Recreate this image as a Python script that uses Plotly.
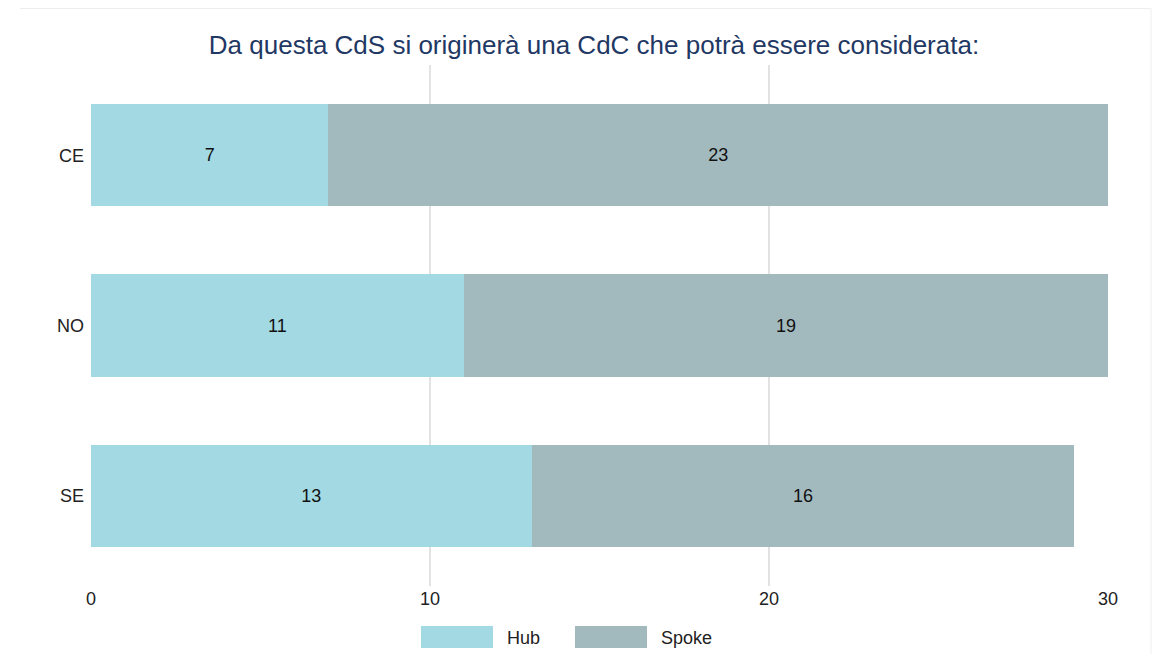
import plotly.graph_objects as go

categories = ["CE", "NO", "SE"]
hub = [7, 11, 13]
spoke = [23, 19, 16]
series_names = ["Hub", "Spoke"]
title_text = "Da questa CdS si originerà una CdC che potrà essere considerata:"
x_ticks = [0, 10, 20, 30]

HUB_C = "#A2D9E2"
SPOKE_C = "#A2BABE"
FONT = "Liberation Sans, Arial, sans-serif"

# page has an 8px body margin; work in figure coordinates (page - 8)
OFF = 8
W, H = 1148, 646
L, T = 91 - OFF, 65 - OFF
R = W - (1108 - OFF)
B = H - (586 - OFF)
pw, ph = W - L - R, H - T - B

def px(x):
    return (x - OFF - L) / pw

def py(y):
    return (H - B - (y - OFF)) / ph

fig = go.Figure()
for name, vals, col in [(series_names[0], hub, HUB_C), (series_names[1], spoke, SPOKE_C)]:
    fig.add_trace(go.Bar(
        y=categories, x=vals, name=name, orientation="h",
        marker=dict(color=col, line=dict(width=0)),
        text=[str(v) for v in vals], textposition="inside",
        insidetextanchor="middle",
        textfont=dict(color="#111111", size=18, family=FONT),
        showlegend=False,
    ))

shapes = [
    dict(type="line", xref="paper", yref="paper", x0=px(20), x1=px(1151), y0=py(8.5), y1=py(8.5),
         line=dict(color="#EEEEEE", width=1)),
    dict(type="line", xref="paper", yref="paper", x0=px(1151), x1=px(1151), y0=py(8.5), y1=py(660),
         line=dict(color="#EEEEEE", width=1)),
    dict(type="rect", xref="paper", yref="paper", x0=px(421), x1=px(493), y0=py(648), y1=py(626),
         fillcolor=HUB_C, line=dict(width=0)),
    dict(type="rect", xref="paper", yref="paper", x0=px(575), x1=px(647), y0=py(648), y1=py(626),
         fillcolor=SPOKE_C, line=dict(width=0)),
]
annotations = [
    dict(text=series_names[0], xref="paper", yref="paper", x=px(505), y=py(638), xanchor="left",
         yanchor="middle", showarrow=False, font=dict(size=18, color="#222222", family=FONT)),
    dict(text=series_names[1], xref="paper", yref="paper", x=px(659), y=py(638), xanchor="left",
         yanchor="middle", showarrow=False, font=dict(size=18, color="#222222", family=FONT)),
]

fig.update_layout(
    barmode="stack",
    bargap=0.4,
    width=W, height=H,
    margin=dict(l=L, r=R, t=T, b=B),
    paper_bgcolor="white", plot_bgcolor="white",
    font=dict(family=FONT, size=18, color="#222222"),
    title=dict(text=title_text, x=px(594), xref="paper", xanchor="center",
               y=1 - (45 - OFF) / H, yanchor="middle",
               font=dict(size=26, color="#1F3864", family=FONT)),
    xaxis=dict(range=[0, 30], tickvals=x_ticks, showgrid=True, gridcolor="#E2E2E2",
               gridwidth=1.5, zeroline=False, showline=False, ticks="",
               tickfont=dict(size=18, color="#222222")),
    yaxis=dict(categoryorder="array", categoryarray=categories, autorange=False,
               range=[2.53, -0.53], showgrid=False, zeroline=False, showline=False,
               ticks="", ticklabelstandoff=6, tickfont=dict(size=18, color="#222222")),
    shapes=shapes,
    annotations=annotations,
    showlegend=False,
)

fig.write_html("out.html")
